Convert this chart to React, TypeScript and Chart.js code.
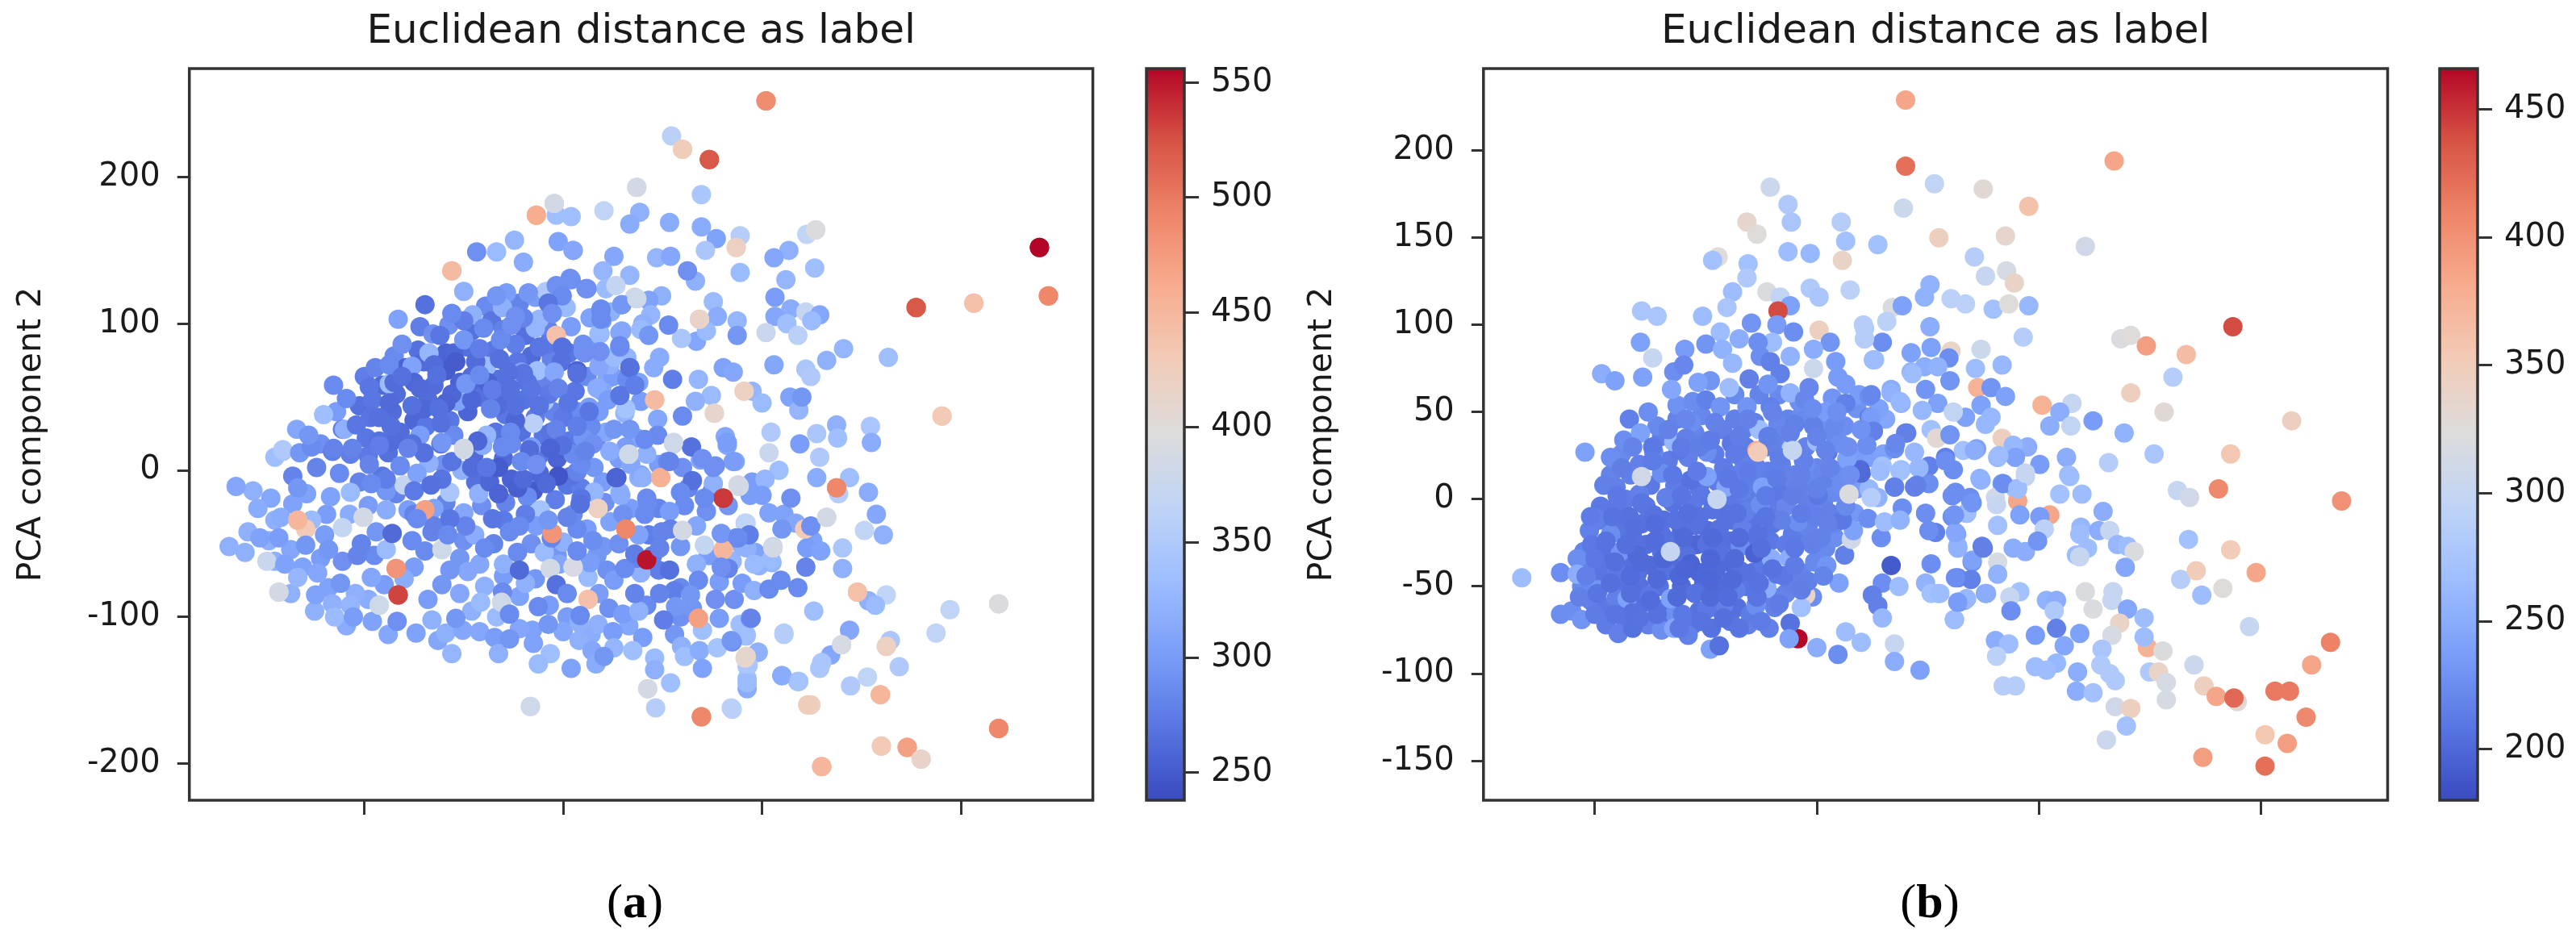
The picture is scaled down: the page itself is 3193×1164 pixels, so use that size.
import React, { useEffect, useRef } from "react";
import { Chart, registerables } from "chart.js";

Chart.register(...registerables);

const chartTitle = "Euclidean distance as label";
const yAxisLabel = "PCA component 2";
const xTicksA = [-200, 0, 200, 400];
const yTicksA = [-200, -100, 0, 100, 200];
const colorTicksA = [250, 300, 350, 400, 450, 500, 550];
const xTicksB = [-200, 0, 200, 400];
const yTicksB = [-150, -100, -50, 0, 50, 100, 150, 200];
const colorTicksB = [200, 250, 300, 350, 400, 450];
const rangeA = { xMin: -376, xMax: 532.7, yMin: -225, yMax: 274, vMin: 238, vMax: 556 };
const rangeB = { xMin: -300.5, xMax: 514.5, yMin: -172.6, yMax: 247, vMin: 180, vMax: 466 };

const coolwarmStops = ["#3b4cc0", "#5977e3", "#7b9ff9", "#9ebeff", "#c0d4f5", "#dddcdc", "#f2cbb7", "#f7ac8e", "#ee8468", "#d65244", "#b40426"];

// [PCA component 1, PCA component 2, euclidean distance]: the crowded middle of panel (a), drawn first
const coreA: number[][] = [
[-78,112,285],[-44,114,280],[-28,118,300],
[-144,98,275],[-115,99,290],[-92,95,265],[-72,102,270],[-38,92,265],[-15,96,280],[8,98,300],[27,104,305],[48,108,320],
[-170,78,285],[-146,82,265],[-118,80,255],[-96,84,265],[-70,82,270],[-48,86,275],[-32,78,260],[-12,76,280],[6,80,270],[30,84,300],[44,62,310],
[-200,64,275],[-182,58,260],[-158,70,255],[-140,74,260],[-118,68,250],[-104,60,255],[-88,54,260],[-66,62,265],[-46,74,270],[-22,60,280],[-2,74,265],[12,54,270],[24,64,285],[50,64,300],
[-228,40,300],[-205,44,265],[-192,48,270],[-168,52,262],[-150,34,258],[-136,48,262],[-114,34,270],[-96,40,256],[-82,50,265],[-58,38,270],[-40,48,268],[-28,36,275],[-10,40,280],[14,40,285],[36,40,300],
[-268,28,310],[-244,18,290],[-222,28,275],[-198,22,270],[-176,12,265],[-164,26,262],[-138,30,270],[-110,24,285],[-90,10,260],[-68,26,268],[-42,26,265],[-20,24,270],[-6,8,255],[34,22,285],[56,8,300],[74,22,310],
[-248,2,280],[-225,-2,285],[-205,-8,280],[-182,-4,270],[-168,-16,280],[-120,4,290],[-88,-8,265],[-52,-6,255],[-30,-14,250],[-24,10,270],[4,-10,270],[18,-12,275],[40,-8,300],[68,4,310],[96,4,300],[120,2,290],[126,-12,280],[150,-14,275],[190,-8,300],
[-312,-14,320],[-290,-34,320],[-258,-16,305],[-238,-30,300],[-196,-24,300],[-178,-14,295],[-118,-22,280],[-82,-24,290],[-58,-22,280],[-36,-18,285],[-8,-20,275],[10,-30,285],[42,-22,290],[68,-26,300],[96,-26,280],[122,-24,285],[144,-28,290],[166,-24,295],
[-296,-48,320],[-274,-54,310],[-240,-44,300],[-188,-42,295],[-152,-48,285],[-132,-42,280],[-100,-48,290],[-70,-50,280],[-32,-50,290],[-6,-58,295],[40,-52,295],[56,-50,290],[86,-44,275],[118,-52,295],[148,-58,300],[170,-62,325],[180,-52,320],
[-320,-56,320],[-290,-62,320],[-262,-66,305],[-244,-60,300],[-222,-62,290],[-190,-58,285],[-150,-66,300],[-104,-60,295],[-84,-64,310],[-60,-72,300],[-28,-74,295],[-4,-64,310],[34,-58,295],[44,-68,290],[96,-68,275],[118,-80,285],[146,-58,300],
[-274,-84,320],[-236,-80,305],[-196,-88,315],[-180,-78,300],[-136,-88,300],[-104,-84,310],[-92,-96,320],[-44,-86,305],[-14,-92,300],[4,-100,300],[36,-84,300],[46,-94,290],[84,-92,285],[112,-82,275],[118,-100,290],[130,-94,295],[172,-88,290],
[-250,-96,320],[-218,-106,315],[-176,-112,310],[-126,-116,310],[-84,-110,310],[-30,-118,305],[0,-110,310],[28,-112,315],[66,-106,310],[80,-114,300],[112,-112,295],
];

const pointsA: number[][] = [
[204,252,485],[109,228,360],[120,219,425],[147,212,520],[74,193,385],[139,188,345],[8,173,335],[41,177,365],[77,176,320],[67,168,315],[107,169,315],[139,166,315],[154,158,305],[178,160,355],[174,152,420],[143,150,345],[245,161,365],[254,164,395],[479,152,556],[488,119,490],[355,111,520],[413,114,440],[227,150,320],[212,145,310],[10,150,310],[51,146,310],[94,145,325],[108,146,310],[125,136,290],[133,129,320],[178,135,330],[224,130,325],[253,138,335],[40,136,325],[67,133,325],[8,130,290],[23,124,285],[43,124,330],[53,126,370],[213,118,300],[99,119,320],[86,116,305],[72,118,380],[59,113,300],[38,110,290],[151,115,330],[229,110,315],[244,108,370],[258,106,310],[250,102,330],[213,105,310],[225,100,335],[155,105,315],[175,102,325],[88,106,325],[106,99,285],[80,100,320],[39,102,300],[175,92,295],[204,94,375],[236,92,360],[134,88,310],[119,90,345],[86,92,295],[144,95,330],[137,103,415],[57,94,310],[37,93,325],[282,83,325],[265,75,320],[327,77,335],[212,72,310],[161,70,305],[171,67,310],[244,69,345],[249,64,350],[97,77,315],[91,70,315],[67,70,265],[47,72,320],[64,77,325],[14,68,255],[37,81,290],[20,81,290],[57,84,290],[110,62,275],[136,62,325],[64,62,285],[76,60,305],[182,54,420],[190,54,325],[200,46,330],[228,50,305],[240,50,295],[237,41,325],[381,37,430],[149,51,330],[133,47,320],[78,47,300],[92,48,445],[39,54,310],[57,51,270],[152,39,410],[120,37,285],[62,39,325],[95,35,310],[26,43,300],[209,26,350],[275,31,320],[309,30,345],[255,25,345],[276,22,335],[310,19,315],[238,18,300],[163,23,310],[165,17,310],[111,18,370],[129,16,265],[66,11,385],[95,24,285],[82,21,285],[51,28,295],[20,22,295],[207,12,375],[258,9,350],[173,6,310],[105,6,285],[138,7,305],[153,3,290],[217,0,335],[203,-6,325],[255,-5,315],[288,-5,335],[53,-5,255],[76,-5,320],[275,-12,490],[277,-16,355],[307,-15,315],[177,-11,385],[130,-7,265],[151,-9,320],[118,-15,285],[229,-19,290],[188,-17,300],[200,-17,300],[161,-19,535],[31,-15,325],[57,-15,320],[84,-19,285],[142,-19,285],[14,-1,280],[18,-19,270],[98,-5,455],
[207,-29,305],[222,-30,305],[234,-36,310],[220,-40,295],[243,-40,430],[249,-38,290],[265,-32,385],[315,-30,310],[303,-41,365],[322,-44,320],[183,-36,360],[174,-46,285],[187,-44,275],[211,-52,370],[193,-56,305],[185,-53,320],[210,-63,325],[197,-65,320],[251,-48,305],[245,-53,300],[259,-55,305],[281,-53,345],[281,-67,320],[244,-66,280],[166,-67,280],[180,-77,300],[192,-82,320],[207,-81,285],[219,-75,285],[236,-80,285],[296,-83,440],[325,-85,365],[307,-89,320],[314,-92,330],[252,-96,335],[389,-95,365],[438,-91,395],[189,-101,280],[178,-105,335],[184,-112,335],[170,-117,290],[222,-111,355],[288,-109,310],[375,-111,365],[329,-116,345],[280,-119,390],[325,-120,420],[196,-124,305],[269,-126,310],[260,-131,345],[258,-135,345],[338,-134,350],[183,-128,410],[185,-134,350],[185,-142,335],[185,-149,315],[220,-140,310],[236,-144,330],[306,-141,365],[289,-147,350],[319,-153,450],[249,-160,420],[170,-163,360],[438,-176,490],[320,-188,430],[346,-189,470],[360,-197,415],[260,-202,450],
[-329,-11,310],[-290,9,335],[-282,13,340],[-265,12,295],[-253,16,285],[-232,13,275],[-214,11,275],[-195,4,280],[-272,-4,280],[-267,-12,295],[-234,-18,305],[-214,-15,330],[-193,-9,285],[-160,-10,370],[-133,-10,265],[-114,-15,345],[-100,15,385],[-102,0,320],[-65,2,250],[-40,-6,260],[-65,-16,255],[-5,-4,245],[-17,-9,260],[54,-5,255],[66,11,380],[111,19,380],[10,11,285],[31,2,295],[78,-3,310],[176,-10,385],[140,8,290],[85,-22,285],[107,-28,300],[35,-26,420],[17,-23,265],[31,-15,325],[58,-17,315],[-85,-16,320],[-139,-27,470],[-130,-26,305],[-178,-27,315],[-215,-30,315],[-201,-32,385],[-222,-39,370],[-259,-40,430],[-267,-34,450],[-253,-34,330],[-294,-19,310],[-307,-26,315],[-272,-23,305],[-284,-32,315],[-317,-42,320],[-336,-52,320],[-305,-46,305],[-286,-46,300],[-259,-51,295],[-298,-62,375],[-280,-64,305],[-236,-54,295],[-203,-50,280],[-207,-58,280],[-172,-43,260],[-156,-27,300],[-147,-33,285],[-178,-54,330],[-139,-55,285],[-122,-54,380],[-114,-33,270],[-100,-29,310],[-116,-44,285],[-89,-44,315],[-71,-33,270],[-54,-42,285],[-44,-38,285],[-23,-27,340],[-27,-38,300],[-11,-43,480],[-15,-34,295],[4,-32,280],[24,-40,300],[0,-49,320],[-19,-56,330],[-79,-53,285],[-168,-67,480],[-160,-74,315],[-166,-85,530],[-185,-92,380],[-286,-83,385],[-267,-73,325],[-247,-70,310],[-224,-77,295],[-249,-85,305],[-232,-91,320],[-193,-73,310],[-209,-84,320],[-214,-92,325],[-230,-100,330],[-211,-100,300],[-192,-103,305],[-167,-103,290],[-148,-111,305],[-132,-102,320],[-108,-101,295],[-118,-111,320],[-101,-109,310],[-122,-78,295],[-114,-68,295],[-96,-69,310],[-79,-79,320],[-83,-90,330],[-61,-83,285],[-62,-90,380],[-54,-98,285],[-67,-100,330],[-44,-68,260],[-60,-64,320],[-38,-77,320],[-13,-67,385],[-7,-78,265],[4,-84,285],[-25,-93,285],[25,-88,440],[25,-73,330],[27,-63,300],[10,-66,390],[14,-55,285],[17,-99,285],[60,-98,300],[76,-96,320],[51,-75,300],[62,-67,285],[72,-84,280],[97,-84,280],[72,-57,275],[84,-61,550],[97,-53,280],[107,-68,265],[78,-70,320],[47,-35,305],[76,-44,305],[63,-40,490],[99,-42,280],[120,-41,385],[134,-38,310],[142,-51,370],[161,-54,450],[159,-43,295],[176,-46,285],[184,-36,365],[134,-64,320],[159,-66,290],[136,-75,285],[128,-85,295],[157,-76,300],[153,-88,290],[113,-93,295],[101,-102,275],[136,-101,470],[140,-109,335],[157,-101,300],[169,-116,295],[188,-101,300],[184,-113,335],[192,-64,330],[211,-53,385],[209,-61,330],[-31,-109,305],[-15,-105,295],[-44,-108,310],[16,-104,320],[35,-105,320],[50,-110,300],[-69,-114,300],[-54,-115,295],[16,-116,320],[51,-121,325],[29,-123,310],[-65,-125,320],[-112,-125,325],[-13,-125,335],[-25,-132,330],[8,-135,305],[41,-127,295],[33,-132,315],[70,-123,335],[119,-120,320],[122,-127,335],[137,-123,315],[92,-128,330],[92,-136,320],[140,-135,305],[155,-121,340],[196,-124,320],[184,-127,410],[186,-133,345],[185,-145,330],[108,-145,335],[85,-149,385],[220,-140,315],[237,-144,340],[-33,-161,380],[93,-162,355],[169,-162,360],[139,-168,490],[246,-160,425],[222,-112,355],
[-9,182,385],[-27,174,460],[-7,174,335],[-49,157,325],[-5,156,305],[10,150,310],[-87,149,290],[-67,149,330],[-40,142,315],[-112,136,445],[7,131,290],[-7,126,290],[24,124,290],[-100,122,320],[-57,121,300],[-35,121,295],[-67,119,295],[-1,119,285],[-17,122,350],[-139,113,265],[-15,114,270],[38,109,285],[59,113,295],[74,117,380],[-112,107,285],[-91,106,320],[-166,103,305],[-61,111,320],[-48,105,290],[-11,107,290],[3,111,330],[-24,103,325],[38,103,285],[-131,93,290],[-124,92,270],[-100,89,295],[-80,97,285],[-63,89,285],[-52,99,290],[-28,97,325],[-7,92,440],[-24,84,270],[-1,84,265],[20,86,290],[36,93,330],[59,95,310],[57,85,285],[78,96,330],[-162,86,290],[-135,80,325],[-152,71,305],[-189,70,280],[-175,72,285],[-108,74,250],[-84,83,275],[-77,71,330],[-55,67,265],[-42,67,305],[-26,68,335],[-9,67,310],[14,66,265],[22,80,290],[36,71,310],[67,70,265],[51,77,330],[-231,58,285],[-218,49,285],[-241,38,335],[-195,57,270],[-175,59,330],[-162,64,265],[-144,56,260],[-127,65,265],[-98,59,295],[-106,47,305],[-84,65,285],[-71,55,275],[-53,56,265],[-32,55,270],[-19,47,345],[-5,56,280],[34,56,315],[63,42,340],[72,58,275],[45,48,300],[5,46,270],[26,40,270],[-48,44,265],[-73,42,280],[-175,46,260],[-152,44,265],[-125,42,265],[-185,36,265],[-208,31,270],[-220,28,320],[-256,24,295],[-282,14,350],[-231,15,280],[-212,15,280],[-173,30,265],[-144,24,300],[-123,32,265],[-100,14,385],[-77,24,325],[-53,26,285],[-30,32,360],[-7,28,280],[14,30,275],[43,26,310],[67,28,295],[-185,20,265],[-152,18,265],[-123,18,265],[-61,16,285],[-32,16,300],[-1,17,265],[30,18,290],[63,16,300],
[-185,17,275],[-156,15,280],[-122,19,295],[-135,5,320],[-164,3,285],[-147,-2,305],[-81,17,315],[-77,2,270],[-42,6,285],[-52,18,285],[-27,4,290],[-13,15,255],[18,4,285],[22,13,280],[47,13,315],[84,11,320],[107,6,280],[151,2,290],[171,6,300],[165,19,300],[80,-5,320],
];

// further dark dots between those of panel (a)
const fillA: number[][] = [
[-170,60,262],[-150,60,258],[-130,58,262],[-112,52,258],[-92,64,262],[-76,60,255],[-60,48,265],[-36,60,268],[-14,52,272],
[-194,36,268],[-172,40,262],[-140,42,258],[-118,46,255],[-92,48,258],[-66,44,262],[-48,34,258],[-24,44,268],[0,36,272],
[-196,10,272],[-172,20,262],[-140,12,265],[-112,6,268],[-86,20,258],[-60,8,260],[-34,14,262],[-12,26,268],[6,20,272],[28,30,285],
[-178,-6,275],[-150,-14,272],[-122,-6,268],[-92,2,262],[-74,-8,258],[-46,-12,252],[-24,-2,258],[8,-4,268],
[-110,80,258],[-88,74,262],[-64,76,265],[-40,66,268],[-16,86,272],[-130,72,262],[-100,102,275],[-60,96,278],[-40,104,280],[-130,-38,278],[-98,-38,280],[-60,-34,272],[-38,-30,275],[-150,-30,278],
[-12,-46,282],[14,-40,285],[30,-48,288],[-46,-56,285],[74,-60,280],[90,-58,275],[108,-40,278],[60,-30,290],[82,-30,285],
];

// the crowded middle of panel (b), drawn first
const coreB: number[][] = [
[-190,-72,212],[-172,-70,208],[-152,-72,215],[-134,-68,205],[-112,-72,210],[-78,-70,208],[-62,-72,215],
[-204,-58,215],[-190,-62,210],[-176,-62,208],[-158,-60,205],[-136,-62,206],[-128,-66,225],[-106,-64,205],[-90,-62,208],[-72,-62,204],[-60,-66,212],[-38,-62,215],
[-212,-50,222],[-194,-46,212],[-176,-50,206],[-160,-50,204],[-142,-50,206],[-122,-50,200],[-102,-48,202],[-88,-50,200],[-64,-50,208],[-40,-56,215],[-28,-54,218],[-4,-56,225],
[-206,-38,215],[-192,-42,208],[-172,-38,205],[-150,-38,200],[-128,-36,200],[-106,-42,198],[-80,-36,200],[-58,-42,205],[-48,-38,210],[-14,-42,218],[-2,-36,222],
[-210,-30,218],[-170,-34,204],[-154,-26,204],[-130,-24,206],[-108,-26,198],[-78,-24,204],[-60,-22,206],[-42,-24,210],[-28,-26,212],[-12,-22,215],[8,-28,222],[16,-22,225],
[-196,-12,212],[-178,-16,208],[-158,-14,206],[-138,-12,204],[-122,-18,202],[-98,-18,202],[-76,-12,206],[-58,-12,208],[-40,-14,208],[-22,-20,212],[-8,-16,218],[16,-14,220],[34,-8,232],
[-172,0,212],[-154,-4,210],[-130,-2,206],[-104,2,208],[-76,-2,210],[-60,0,212],[-40,-4,212],[-8,-2,215],[6,-2,218],[16,4,222],[36,6,235],
[-186,14,218],[-168,14,215],[-150,8,210],[-128,8,212],[-106,6,210],[-90,10,212],[-72,14,215],[-58,10,214],[-26,10,218],[-6,8,222],[8,12,215],
[-176,26,222],[-160,20,215],[-134,22,212],[-116,24,215],[-84,18,212],[-66,22,215],[-44,16,214],[-20,14,218],[0,18,220],[18,16,225],[48,24,238],
[-174,34,225],[-140,36,214],[-110,38,218],[-92,26,212],[-64,30,212],[-46,30,215],[-30,34,222],[-10,30,218],[10,36,222],[34,24,235],[60,26,240],
[-144,42,222],[-126,46,218],[-104,48,220],[-74,46,215],[-56,44,214],[-26,46,218],[-14,48,222],[4,46,226],[36,52,228],[62,46,245],
[-126,54,228],[-112,56,224],[-74,60,222],[-52,60,218],[-34,60,222],[-16,56,226],[14,58,230],[38,60,235],[56,52,240],
];

const pointsB: number[][] = [
[-17,-80,465],[-10,-55,340],[-54,28,380],
[80,229,385],[80,191,420],[268,194,385],[106,181,295],[150,178,330],[78,167,305],[191,168,360],[55,146,270],[110,150,345],[170,151,335],[242,145,310],[142,139,285],[171,131,315],[152,128,300],[178,124,340],[102,123,255],[97,116,255],[121,115,290],[134,112,290],[68,110,320],[77,111,240],[159,109,270],[173,112,325],[191,111,260],[63,102,290],[102,99,250],[375,99,440],[43,98,280],[186,93,285],[43,92,270],[59,90,225],[274,92,320],[283,94,325],[297,88,390],[333,83,365],[103,87,240],[148,86,305],[121,85,340],[85,84,240],[119,81,225],[51,80,260],[97,76,250],[109,76,255],[143,75,265],[167,77,260],[85,73,255],[120,68,230],[321,70,285],[283,61,345],[145,64,375],[157,64,230],[170,59,240],[67,63,250],[76,55,255],[47,59,225],[98,63,230],[109,55,240],[95,51,260],[148,54,240],[203,54,375],[230,55,300],[219,50,250],[313,50,330],[428,45,345],[249,45,235],[229,42,295],[210,42,250],[277,38,255],[134,47,240],[157,47,260],[152,43,260],[123,50,295],[47,47,215],[49,40,215],[80,38,215],[103,40,270],[108,35,330],[120,37,230],[167,35,345],[190,30,250],[177,31,260],[144,29,240],[70,29,225],[88,27,260],[132,28,270],[304,26,275],[373,26,355],[263,21,285],[225,24,250],[201,20,235],[179,24,240],[163,24,260],[116,24,215],[39,17,200],[59,19,270],[76,17,265],[101,19,215],[123,17,225],[188,13,295],[228,13,265],[147,12,255],[167,9,235],[70,7,215],[88,7,215],[101,9,225],[179,6,270],[125,4,225],[362,6,405],[325,5,300],[336,1,310],[219,3,270],[239,3,265],[473,-1,400],[161,1,310],[181,-1,385],[138,1,225],[47,6,260],[55,1,255],
[183,-9,240],[162,-3,300],[163,-15,270],[139,-2,225],[135,-8,265],[124,3,225],[122,-10,225],[210,-9,385],[201,-10,235],[205,-17,290],[258,-7,250],[238,-16,260],[254,-18,250],[264,-18,300],[237,-20,265],[126,-20,240],[107,-19,215],[149,-27,215],[127,-27,255],[177,-28,250],[188,-30,250],[199,-24,230],[271,-26,260],[280,-27,265],[286,-30,320],[244,-28,265],[234,-32,265],[237,-33,300],[278,-39,245],[163,-36,315],[140,-36,225],[163,-43,255],[335,-23,270],[373,-29,350],[396,-42,385],[328,-46,285],[342,-41,350],[347,-55,265],[366,-51,325],[127,-45,215],[139,-46,215],[109,-54,265],[152,-54,240],[133,-58,250],[128,-59,225],[183,-53,270],[174,-56,300],[175,-64,225],[124,-69,260],[207,-58,255],[216,-58,250],[214,-64,280],[242,-53,320],[267,-53,300],[266,-58,300],[249,-63,320],[280,-63,245],[295,-68,265],[273,-71,340],[266,-78,315],[298,-85,375],[295,-79,265],[312,-87,320],[390,-73,300],[463,-82,410],[446,-95,385],[340,-95,305],[197,-78,235],[216,-74,215],[237,-77,240],[161,-81,250],[173,-83,265],[162,-90,290],[223,-84,245],[257,-86,275],[256,-95,280],[216,-94,260],[197,-96,265],[207,-98,265],[235,-99,250],[264,-100,280],[300,-99,280],[308,-99,340],[269,-104,280],[315,-105,315],[349,-107,345],[168,-107,285],[179,-107,285],[234,-110,250],[249,-111,270],[315,-115,315],[360,-113,385],[379,-116,330],[376,-114,425],[413,-110,415],[426,-110,415],[441,-125,405],[269,-119,310],[283,-120,345],[279,-130,270],[261,-138,305],[404,-135,355],[424,-140,390],[348,-148,390],[404,-153,420],
[-266,-45,265],[-231,-42,225],[-216,-34,225],[-216,-43,250],[-209,27,240],[-186,24,225],[-231,-66,225],[-221,-64,225],[-212,-69,230],[-179,-77,215],[-166,-74,205],[-140,-75,225],[-129,-74,245],[-116,-78,215],[-95,-74,205],[-96,-86,240],[-88,-84,205],[-43,-74,215],[-24,-71,205],[-25,-80,240],[0,-85,250],[19,-89,225],[26,-76,265],[40,-82,265],[70,-83,300],[70,-93,250],[93,-98,240],[-14,-62,270],[-55,-61,225],[-84,-61,215],[-45,-51,250],[-23,-48,215],[-8,-47,215],[20,-48,240],[9,-38,230],[-41,-34,250],[-25,-34,250],[-36,-43,210],[67,-38,190],[59,-48,225],[74,-50,265],[50,-55,215],[55,-61,215],[59,-68,260],[25,-32,215],[-4,-26,215],[31,-23,310],[58,-22,225],[33,-18,240],[46,-11,225],[61,-13,265],[77,-5,225],[75,-12,255],[103,-37,225],[98,-8,225],[101,-18,225],[125,-45,225],[98,-48,255],[103,-54,270],[111,-54,265],[124,-69,265],[135,-57,260],[127,-59,235],[153,-54,250],[140,-35,240],[150,-28,215],[127,-28,255],[125,-19,245],[135,-8,265],[140,-2,230],[124,-9,230],
[-192,8,215],[-181,7,215],[-147,27,220],[-125,28,210],[-99,27,225],[-23,29,290],[-140,15,225],[-114,11,205],[-99,13,240],[-82,7,245],[-54,18,215],[-32,20,215],[-10,20,225],[10,27,210],[27,23,240],[40,15,200],[57,16,265],[75,16,270],[92,18,260],[116,22,225],[142,28,250],[164,25,265],[148,11,255],[168,9,225],[181,6,265],[188,15,300],[227,14,265],[70,7,215],[90,8,215],[122,2,225],[49,1,285],[-112,-3,210],[-136,1,215],[-160,3,215],[-181,-4,210],[-195,-4,210],[-199,-11,215],[-205,-18,215],[-186,-20,225],[-169,-10,205],[-147,-9,205],[-127,-12,205],[-106,-10,205],[-84,-8,205],[-64,-7,215],[-51,-3,225],[-28,-4,220],[-1,-10,215],[-17,-13,225],[1,2,210],[-17,6,215],[-36,5,210],[-49,7,240],[-67,5,215],[12,-8,215],[23,-12,210],[-32,-12,215],[-67,-17,215],[-88,-17,205],[-110,-15,205],[-140,-20,205],[-166,-22,205],[-203,-26,210],[-192,-31,205],[-177,-30,230],[-162,-32,200],[-140,-30,205],[-118,-32,205],[-99,-26,205],[-88,-30,205],[-69,-27,225],[-56,-31,195],[-53,-20,205],[-181,-41,210],[-162,-43,205],[-136,-41,205],[-114,-37,195],[-91,-41,200],[-69,-41,205],[-197,-52,230],[-181,-57,215],[-171,-57,240],[-151,-55,210],[-132,-57,240],[-110,-54,205],[-99,-63,210],[-121,-66,210],[-144,-66,205],[-166,-65,205],[-73,-52,215],
[-42,179,305],[-26,169,280],[-23,159,275],[22,159,285],[26,148,270],[-63,159,335],[-54,152,325],[-89,139,325],[-94,137,270],[-26,142,265],[-6,141,260],[23,137,340],[-62,135,270],[-63,127,280],[-76,119,265],[-6,121,280],[2,116,275],[30,120,290],[-45,119,320],[-33,116,295],[-24,111,240],[-81,110,275],[-35,108,440],[-158,108,275],[-144,105,275],[-103,105,265],[-59,101,230],[-36,100,235],[-21,96,225],[2,97,345],[42,100,285],[43,92,285],[-87,96,265],[-70,92,250],[-159,90,240],[-148,81,300],[-40,90,265],[-53,90,225],[12,90,230],[-3,86,250],[-100,89,230],[-119,86,235],[-85,86,255],[-76,78,260],[-24,82,255],[-51,82,225],[-42,79,215],[-3,75,305],[52,80,265],[17,79,235],[-194,72,250],[-182,68,240],[-157,70,240],[-129,73,225],[-120,77,220],[-96,68,230],[-61,69,215],[-33,72,215],[19,70,235],[86,72,265],[-131,63,245],[-107,67,240],[-79,64,265],[-44,66,230],[-24,61,255],[-7,64,220],[26,66,235],[67,61,255],[75,56,260],[49,60,220],[-100,57,215],[-87,53,230],[-63,53,230],[-42,53,215],[-11,57,220],[8,50,235],[26,55,215],[49,47,235],[-169,46,215],[-152,50,225],[-159,38,240],[-113,44,225],[-85,40,215],[-66,40,215],[-52,40,265],[-35,43,220],[-20,43,215],[-3,42,215],[25,42,225],[51,39,215],[81,38,215],[-148,30,210],[-129,33,260],[-118,35,215],[-100,33,215],[-77,32,210],[-40,33,215],[0,33,265],[21,32,225],[45,31,225],[71,32,220],
];

// further dark dots between those of panel (b)
const fillB: number[][] = [
[-200,-66,212],[-182,-66,208],[-160,-68,206],[-124,-74,210],[-104,-70,206],[-84,-68,204],[-70,-74,208],[-50,-70,212],
[-214,-56,215],[-198,-54,208],[-168,-54,204],[-150,-58,202],[-126,-56,200],[-96,-56,200],[-80,-56,202],[-54,-56,208],[-34,-60,212],
[-208,-44,215],[-186,-48,204],[-168,-44,202],[-144,-46,200],[-124,-44,198],[-96,-46,198],[-76,-46,200],[-52,-48,206],[-30,-44,210],[-14,-52,214],
[-200,-34,210],[-182,-36,204],[-158,-36,200],[-138,-34,198],[-118,-40,196],[-96,-34,198],[-74,-34,200],[-40,-40,206],[-20,-38,212],[6,-44,218],
[-190,-24,206],[-172,-26,204],[-146,-24,202],[-120,-22,200],[-94,-22,200],[-70,-22,202],[-50,-28,204],[-20,-28,210],[4,-22,216],
[-204,-10,212],[-184,-10,206],[-164,-16,204],[-146,-14,202],[-116,-8,204],[-94,-6,206],[-72,-8,206],[-46,-10,208],[-14,-8,212],[10,-14,216],[26,-4,222],
[-180,2,210],[-158,-2,208],[-122,2,208],[-70,6,210],[-46,2,212],[-22,2,214],[0,6,216],[22,8,224],
[-176,18,214],[-130,14,210],[-108,16,212],[-80,12,210],[-62,16,212],[-36,12,212],[-14,14,216],[12,18,218],[30,14,226],
[-166,30,218],[-148,22,212],[-122,30,212],[-106,30,214],[-74,26,212],[-34,24,214],[-12,22,216],[8,28,218],[28,30,226],
[-134,40,216],[-96,34,212],[-70,36,214],[-44,36,214],[-24,38,216],[0,36,218],[16,42,222],[40,40,228],
[-118,46,220],[-92,44,216],[-62,46,216],[-40,50,218],[-4,52,224],[18,50,226],
];

// pale dots that lie on top of the crowded middle of panel (b)
const accentB: number[][] = [
[-90,0,300],[29,3,320],[-132,-30,300],[-158,13,310],[-53,27,350],[-22,28,300],
];

function hexRgb(hex: string) {
  const n = parseInt(hex.slice(1), 16);
  return [(n >> 16) & 255, (n >> 8) & 255, n & 255];
}

function coolwarm(t: number) {
  const c = Math.min(1, Math.max(0, t)) * (coolwarmStops.length - 1);
  const i = Math.min(coolwarmStops.length - 2, Math.floor(c));
  const a = hexRgb(coolwarmStops[i]);
  const b = hexRgb(coolwarmStops[i + 1]);
  const f = c - i;
  return `rgb(${a.map((v, k) => Math.round(v + (b[k] - v) * f)).join(",")})`;
}

const AXIS = "#333333";
const FONT = "'DejaVu Sans'";
const TOP = 85;
const BOTTOM = 992;
const PAGE_H = 1164;

const frame = {
  id: "frame",
  afterDatasetsDraw(chart: any) {
    const { ctx, chartArea: a } = chart;
    ctx.save();
    ctx.strokeStyle = AXIS;
    ctx.lineWidth = 3.5;
    ctx.strokeRect(a.left, a.top, a.right - a.left, a.bottom - a.top);
    ctx.restore();
  },
};

function setTicks(values: number[]) {
  return (scale: any) => {
    scale.ticks = values.map((value) => ({ value }));
  };
}

function makeScatter(canvas: HTMLCanvasElement, pts: number[][], r: typeof rangeA, xTicks: number[], yTicks: number[], axisLeft: number, padRight: number) {
  return new Chart(canvas, {
    type: "scatter",
    plugins: [frame],
    data: {
      datasets: [
        {
          data: pts.map(([x, y]) => ({ x, y })),
          pointRadius: 12,
          pointHoverRadius: 12,
          borderWidth: 0,
          backgroundColor: pts.map((p) => coolwarm((p[2] - r.vMin) / (r.vMax - r.vMin))),
        },
      ],
    },
    options: {
      responsive: false,
      animation: false,
      layout: { padding: { left: 0, right: padRight, top: 0, bottom: 0 } },
      plugins: {
        legend: { display: false },
        tooltip: { enabled: false },
        title: {
          display: true,
          text: chartTitle,
          fullSize: false,
          color: "#1a1a1a",
          font: { family: FONT, size: 50, weight: "normal" },
          padding: { top: 10, bottom: 15 },
        },
      },
      scales: {
        x: {
          type: "linear",
          min: r.xMin,
          max: r.xMax,
          afterBuildTicks: setTicks(xTicks),
          afterFit: (s: any) => {
            s.height = PAGE_H - BOTTOM;
          },
          ticks: { display: false },
          border: { display: false },
          grid: { drawOnChartArea: false, drawTicks: true, tickLength: 18, tickWidth: 3, tickColor: AXIS },
        },
        y: {
          type: "linear",
          min: r.yMin,
          max: r.yMax,
          afterBuildTicks: setTicks(yTicks),
          afterFit: (s: any) => {
            s.width = axisLeft;
          },
          title: {
            display: true,
            text: yAxisLabel,
            color: "#1a1a1a",
            font: { family: FONT, size: 41, weight: "normal" },
            padding: { top: 15, bottom: 0 },
          },
          ticks: { color: "#1a1a1a", font: { family: FONT, size: 40 }, padding: 21, autoSkip: false, maxRotation: 0 },
          border: { display: false },
          grid: { drawOnChartArea: false, drawTicks: true, tickLength: 15, tickWidth: 3, tickColor: AXIS },
        },
      },
    },
  } as any);
}

function makeColorbar(canvas: HTMLCanvasElement, r: typeof rangeA, ticks: number[]) {
  const steps = 256;
  const datasets = Array.from({ length: steps }, (_, i) => {
    const span = r.vMax - r.vMin;
    const lo = r.vMin + (span * i) / steps;
    const hi = Math.min(r.vMax, r.vMin + (span * (i + 1.6)) / steps);
    return {
      data: [[lo, hi]],
      backgroundColor: coolwarm((i + 0.5) / steps),
      borderWidth: 0,
      grouped: false,
      barPercentage: 1,
      categoryPercentage: 1,
    };
  });
  return new Chart(canvas, {
    type: "bar",
    plugins: [frame],
    data: { labels: ["distance"], datasets },
    options: {
      responsive: false,
      animation: false,
      layout: { padding: { left: 10, right: 0, top: TOP, bottom: PAGE_H - BOTTOM } },
      plugins: { legend: { display: false }, tooltip: { enabled: false }, title: { display: false } },
      scales: {
        x: { display: false },
        y: {
          position: "right",
          min: r.vMin,
          max: r.vMax,
          afterBuildTicks: setTicks(ticks),
          afterFit: (s: any) => {
            s.width = canvas.width - 10 - 47;
          },
          ticks: { color: "#1a1a1a", font: { family: FONT, size: 40 }, padding: 15, autoSkip: false, maxRotation: 0, align: "center" },
          border: { display: false },
          grid: { drawOnChartArea: false, drawTicks: true, tickLength: 18, tickWidth: 3, tickColor: AXIS },
        },
      },
    },
  } as any);
}

const captionStyle: React.CSSProperties = {
  position: "absolute",
  top: 1077,
  transform: "translateX(-50%)",
  font: "60px 'Liberation Serif', serif",
  lineHeight: "80px",
  color: "#000",
  whiteSpace: "nowrap",
};

export default function App() {
  const scatterA = useRef<HTMLCanvasElement>(null);
  const scatterB = useRef<HTMLCanvasElement>(null);
  const barA = useRef<HTMLCanvasElement>(null);
  const barB = useRef<HTMLCanvasElement>(null);

  useEffect(() => {
    const charts = [
      makeScatter(scatterA.current!, [...coreA, ...pointsA.filter((p) => p[2] >= 300), ...fillA, ...pointsA.filter((p) => p[2] < 300 || p[2] >= 380)], rangeA, xTicksA, yTicksA, 234.7, 1400 - 1354.6),
      makeScatter(scatterB.current!, [...coreB, ...pointsB, ...fillB, ...accentB], rangeB, xTicksB, yTicksB, 1838.8 - 1600, 1400 - 1359.5),
      makeColorbar(barA.current!, rangeA, colorTicksA),
      makeColorbar(barB.current!, rangeB, colorTicksB),
    ];
    return () => charts.forEach((c) => c.destroy());
  }, []);

  const at = (left: number): React.CSSProperties => ({ position: "absolute", left, top: 0 });
  return (
    <div style={{ position: "absolute", left: 0, top: 0, width: 3193, height: PAGE_H, background: "#fff", overflow: "hidden" }}>
      <canvas ref={scatterA} width={1400} height={PAGE_H} style={at(0)} />
      <canvas ref={barA} width={190} height={PAGE_H} style={at(1411)} />
      <canvas ref={scatterB} width={1400} height={PAGE_H} style={at(1600)} />
      <canvas ref={barB} width={179} height={PAGE_H} style={at(3014)} />
      <div style={{ ...captionStyle, left: 787 }}>(<b>a</b>)</div>
      <div style={{ ...captionStyle, left: 2392 }}>(<b>b</b>)</div>
    </div>
  );
}
